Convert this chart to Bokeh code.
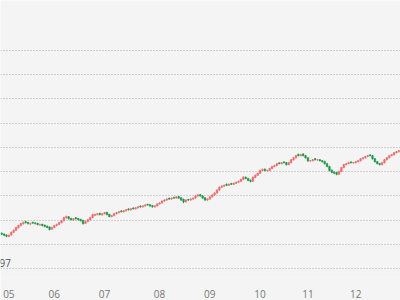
from bokeh.plotting import figure
from bokeh.models import FixedTicker, Label, ColumnDataSource, Range1d
from bokeh.embed import file_html
from bokeh.resources import INLINE

month_ticks = [3, 22, 43, 66, 87, 108, 128, 148]
month_labels = ["05", "06", "07", "08", "09", "10", "11", "12"]
grid_levels = [100, 110, 120, 130, 140, 150, 160, 170, 180, 190]
edge_label = "97"

opens = [114.6,114.3,113.9,113.3,113.9,115.0,115.9,116.9,117.8,118.5,
 119.4,119.1,118.4,119.1,118.9,118.7,118.0,118.3,117.9,117.5,
 117.2,116.3,117.0,117.8,118.3,119.0,119.8,121.0,121.4,120.7,
 120.1,121.0,120.7,120.3,119.9,118.7,119.4,120.2,121.1,122.0,
 122.3,122.8,122.2,122.7,123.2,122.4,121.5,121.9,122.7,123.1,
 123.8,123.5,123.9,124.6,124.3,125.0,124.7,125.1,125.8,125.5,
 125.9,126.5,126.4,126.0,125.5,125.9,126.7,127.1,127.9,128.3,
 129.0,128.7,129.4,129.1,129.7,129.2,128.6,127.6,128.5,128.3,
 128.7,129.1,130.0,130.5,130.0,129.2,128.3,128.7,129.6,130.4,
 131.2,132.4,133.6,134.0,134.8,134.4,135.1,134.8,135.2,135.6,
 136.0,136.8,137.7,137.2,136.5,136.0,137.6,138.5,139.3,140.5,
 141.0,140.4,140.5,141.3,142.1,142.5,143.6,143.3,144.0,143.7,
 142.9,143.7,144.9,145.7,147.1,146.6,147.3,146.6,145.7,144.4,
 144.5,145.3,144.8,144.9,144.5,144.2,143.3,142.1,140.6,139.8,
 139.6,138.9,140.1,141.7,142.9,143.3,144.0,143.6,143.7,144.1,
 144.5,145.3,145.7,146.2,146.9,146.6,145.3,144.1,143.3,142.9,
 143.7,144.9,145.7,146.6,147.0,147.8,148.2]

closes = [114.2,113.8,113.4,113.8,115.0,115.8,117.0,117.8,118.6,119.0,
 119.0,118.6,118.6,118.8,118.6,118.2,118.2,117.8,117.4,117.0,
 116.2,117.0,117.8,118.2,119.0,119.8,121.1,121.5,120.6,120.2,
 120.6,120.6,120.2,119.8,118.6,119.4,120.2,121.1,122.3,122.3,
 122.7,122.3,122.7,123.1,122.3,121.5,121.9,122.7,123.1,123.5,
 123.5,123.9,124.3,124.3,124.7,124.7,125.1,125.5,125.5,125.9,
 126.3,126.3,125.9,125.5,125.9,126.7,127.1,127.9,128.3,128.7,
 128.7,129.1,129.1,129.6,129.1,128.3,127.5,128.3,128.3,128.7,
 129.1,130.0,130.4,130.0,129.1,128.3,128.7,129.6,130.4,131.2,
 132.4,133.6,134.0,134.4,134.4,134.8,134.8,135.2,135.6,136.0,
 136.8,137.7,137.2,136.4,136.0,137.7,138.5,139.3,140.5,140.9,
 140.5,140.5,141.3,142.1,142.5,143.3,143.3,143.7,143.7,142.9,
 143.7,144.9,145.7,146.6,146.6,147.0,146.6,145.7,144.5,144.5,
 144.9,144.9,144.9,144.5,144.1,143.3,142.1,140.5,139.7,139.3,
 138.9,140.1,141.7,142.9,143.3,143.7,143.7,143.7,144.1,144.5,
 145.3,145.7,146.2,146.6,146.6,145.3,144.1,143.3,142.9,143.7,
 144.9,145.7,146.6,147.0,147.8,148.2,148.6]

highs = [115.0,114.6,114.2,114.1,115.3,116.2,117.3,118.1,118.9,119.5,
 119.7,119.3,119.0,119.4,119.2,118.9,118.6,118.5,118.2,117.8,
 117.5,117.3,118.1,118.6,119.3,120.1,121.4,121.9,121.7,121.0,
 120.9,121.3,120.9,120.6,120.2,119.8,120.5,121.4,122.6,122.7,
 123.0,123.1,123.0,123.4,123.5,122.6,122.2,123.0,123.4,123.8,
 124.1,124.2,124.6,124.9,125.0,125.3,125.4,125.8,126.1,126.2,
 126.6,126.8,126.6,126.3,126.2,127.0,127.4,128.2,128.6,129.0,
 129.3,129.4,129.7,129.9,130.0,129.5,128.9,128.6,128.8,129.0,
 129.4,130.3,130.8,130.8,130.3,129.5,129.0,129.9,130.7,131.5,
 132.7,133.9,134.4,134.7,135.1,135.1,135.4,135.5,135.9,136.3,
 137.1,138.1,138.0,137.5,136.8,138.0,138.8,139.6,140.8,141.3,
 141.3,140.8,141.6,142.4,142.8,143.6,143.9,144.0,144.3,144.0,
 144.0,145.2,146.0,146.9,147.4,147.3,147.6,146.9,146.0,144.8,
 145.2,145.6,145.2,145.2,144.8,144.5,143.6,142.4,140.9,140.1,
 139.9,140.4,142.0,143.2,143.6,144.0,144.3,144.0,144.4,144.8,
 145.6,146.0,146.5,146.9,147.2,146.9,145.6,144.4,143.6,144.0,
 145.2,146.0,146.9,147.3,148.1,148.5,148.9]

lows = [113.9,113.5,113.0,113.0,113.6,114.7,115.6,116.6,117.5,118.2,
 118.7,118.3,118.1,118.5,118.3,117.9,117.7,117.5,117.1,116.7,
 115.8,116.0,116.7,117.5,118.0,118.7,119.5,120.7,120.3,119.9,
 119.8,120.3,119.9,119.5,118.2,118.4,119.1,119.9,120.8,121.7,
 122.0,122.0,121.9,122.4,122.0,121.2,121.2,121.6,122.4,122.8,
 123.2,123.2,123.6,124.0,124.0,124.4,124.4,124.8,125.2,125.2,
 125.6,126.0,125.6,125.2,125.2,125.6,126.4,126.8,127.6,128.0,
 128.4,128.4,128.8,128.8,128.8,128.0,127.0,127.3,128.0,128.0,
 128.4,128.8,129.7,129.7,128.8,128.0,128.0,128.4,129.3,130.1,
 130.9,132.1,133.3,133.7,134.1,134.1,134.5,134.5,134.9,135.3,
 135.7,136.5,136.9,136.1,135.6,135.7,137.3,138.2,139.0,140.2,
 140.2,140.1,140.2,141.0,141.8,142.2,143.0,143.0,143.4,142.5,
 142.6,143.4,144.6,145.4,146.3,146.3,146.3,145.4,144.0,144.1,
 144.2,144.6,144.5,144.2,143.8,143.0,141.8,140.1,139.4,139.0,
 138.5,138.6,139.8,141.4,142.6,143.0,143.4,143.3,143.4,143.8,
 144.2,145.0,145.4,145.9,146.3,145.0,143.8,143.0,142.6,142.6,
 143.4,144.6,145.4,146.3,146.7,147.5,147.9]

UP = "#e8706f"
DOWN = "#23994a"
BG = "#f4f4f4"

idx = list(range(len(closes)))
colors = [UP if c >= o else DOWN for o, c in zip(opens, closes)]
tops = [max(o, c) for o, c in zip(opens, closes)]
bots = [min(o, c) for o, c in zip(opens, closes)]
src = ColumnDataSource(dict(x=idx, o=opens, h=highs, l=lows, c=closes,
                            top=tops, bot=bots, color=colors))

p = figure(width=400, height=300, output_backend="svg", toolbar_location=None,
           x_range=Range1d(-0.5, len(closes) - 0.3),
           y_range=Range1d(96.4, 210.5),
           min_border=0, min_border_left=0, min_border_right=0,
           min_border_top=0, min_border_bottom=0)
p.background_fill_color = BG
p.border_fill_color = BG
p.outline_line_color = None

p.segment(x0="x", y0="h", x1="x", y1="l", color="color", line_width=1, source=src)
p.vbar(x="x", width=0.7, top="top", bottom="bot", fill_color="color",
       line_color="color", line_width=0.5, source=src)

p.yaxis.visible = False
p.xgrid.visible = False
p.ygrid.ticker = FixedTicker(ticks=grid_levels)
p.ygrid.grid_line_color = "#a8a8a8"
p.ygrid.grid_line_dash = "1 2"
p.ygrid.grid_line_width = 1

xa = p.xaxis[0]
xa.ticker = FixedTicker(ticks=month_ticks)
xa.major_label_overrides = {t: lab for t, lab in zip(month_ticks, month_labels)}
xa.axis_line_color = None
xa.major_tick_line_color = None
xa.minor_tick_line_color = None
xa.major_label_text_color = "#777777"
xa.major_label_text_font = "Open Sans"
xa.major_label_text_font_size = "10px"
xa.major_label_standoff = 6

p.add_layout(Label(x=-1, y=grid_levels[0], x_units="screen", y_units="data",
                   text=edge_label, y_offset=2, text_font="Open Sans",
                   text_font_size="10px", text_color="#555555"))

open("out.html", "w").write(file_html(p, INLINE))
